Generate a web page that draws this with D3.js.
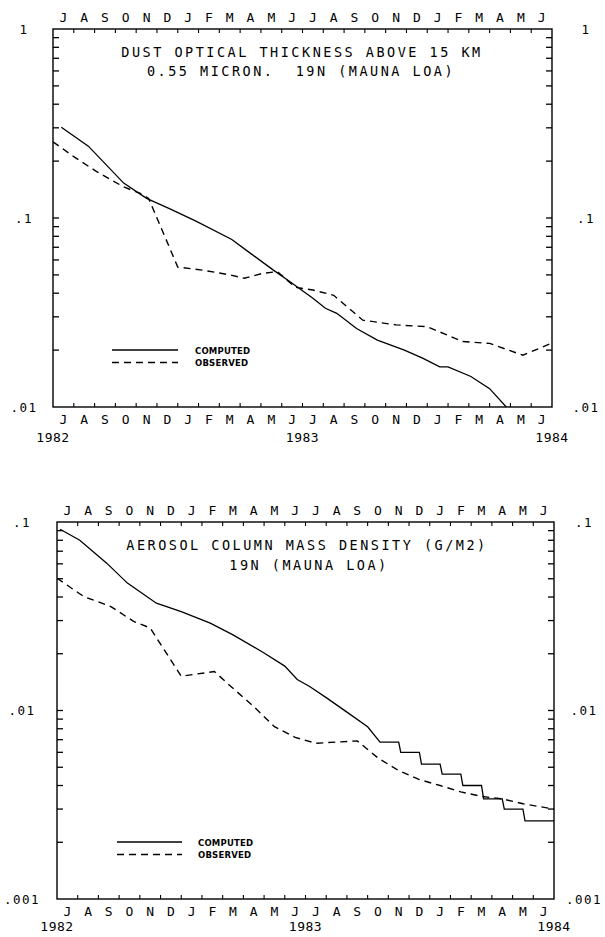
<!DOCTYPE html>
<html>
<head>
<meta charset="utf-8">
<script src="https://cdn.jsdelivr.net/npm/d3@7"></script>
<style>
  body { margin: 0; background: #fff; }
  svg { display: block; }
</style>
</head>
<body>
<div id="chart"></div>
<script>
// month letters, Jul 1982 .. Jun 1984
var monthLetters = ['J','A','S','O','N','D','J','F','M','A','M','J',
                    'J','A','S','O','N','D','J','F','M','A','M','J'];
var yearLabels = ['1982', '1983', '1984'];
var yearMonths = [0, 12, 24];

// panel 1: dust optical thickness (month index from 1 Jul 1982)
var dustComputedMonth = [0.4, 1.7, 3.4, 4.5, 5.6, 6.9, 8.6, 9.5, 10.6, 11.4, 12.5, 13.1, 13.65, 14.6, 15.6, 16.9, 17.8, 18.6, 19.0, 20.1, 21.0, 21.8, 22.3];
var dustComputed = [0.302, 0.240, 0.153, 0.127, 0.112, 0.096, 0.077, 0.065, 0.053, 0.046, 0.0376, 0.0333, 0.0313, 0.026, 0.0226, 0.020, 0.0181, 0.0163, 0.0163, 0.0145, 0.0125, 0.010, 0.009];
var dustObservedMonth = [0, 1.0, 2.1, 3.4, 4.2, 4.6, 6.0, 7.2, 8.5, 9.2, 10.1, 10.8, 11.65, 12.5, 13.5, 14.9, 16.5, 18.0, 19.7, 21.0, 22.6, 24];
var dustObserved = [0.253, 0.211, 0.176, 0.146, 0.135, 0.127, 0.055, 0.053, 0.050, 0.048, 0.051, 0.052, 0.043, 0.0416, 0.039, 0.0288, 0.0272, 0.0266, 0.0222, 0.0217, 0.0188, 0.0218];

// panel 2: aerosol column mass density
var massComputedMonth = [0.15, 1.1, 2.4, 3.4, 4.8, 6.0, 7.4, 8.5, 10.0, 11.0, 11.6, 12.2, 13.0, 14.0, 15.0, 15.6, 16.5, 16.6, 17.5, 17.6, 18.5, 18.6, 19.5, 19.6, 20.5, 20.6, 21.5, 21.6, 22.5, 22.6, 24];
var massComputed = [0.0915, 0.080, 0.0605, 0.0474, 0.0371, 0.0335, 0.0291, 0.0252, 0.0202, 0.0172, 0.0146, 0.0134, 0.0117, 0.0098, 0.0082, 0.0068, 0.0068, 0.0060, 0.0060, 0.0052, 0.0052, 0.0046, 0.0046, 0.0040, 0.0040, 0.0034, 0.0034, 0.0030, 0.0030, 0.0026, 0.0026];
var massObservedMonth = [0, 1.3, 2.6, 3.7, 4.5, 6.0, 7.6, 8.4, 9.5, 10.5, 11.5, 12.5, 13.5, 14.5, 15.5, 16.5, 17.5, 18.5, 19.5, 20.5, 21.5, 22.5, 24];
var massObserved = [0.0503, 0.0402, 0.0356, 0.0297, 0.0274, 0.0152, 0.0161, 0.0134, 0.0105, 0.0082, 0.0072, 0.0067, 0.0068, 0.0069, 0.0056, 0.0048, 0.0043, 0.0040, 0.0037, 0.0035, 0.0034, 0.0032, 0.0030];

var legendNames = ['COMPUTED', 'OBSERVED'];

var W = 605, H = 937;
var svg = d3.select('#chart').append('svg').attr('width', W).attr('height', H);

var plotFont = '"DejaVu Sans Mono", monospace';

function drawPanel(opt) {
    var g = svg.append('g');
    var x = d3.scaleLinear().domain([0, 24]).range([opt.left, opt.right]);
    var y = d3.scaleLog().domain(opt.yDomain).range([opt.bottom, opt.top]);

    var clipId = 'clip' + opt.id;
    g.append('clipPath').attr('id', clipId).append('rect')
        .attr('x', opt.left).attr('y', opt.top)
        .attr('width', opt.right - opt.left).attr('height', opt.bottom - opt.top);

    // frame
    g.append('rect').attr('x', opt.left).attr('y', opt.top)
        .attr('width', opt.right - opt.left).attr('height', opt.bottom - opt.top)
        .attr('fill', 'none').attr('stroke', '#000').attr('stroke-width', 1.4);

    // month ticks on top and bottom (inward)
    var mTicks = d3.range(1, 24);
    g.selectAll('.mt').data(mTicks).enter().append('line')
        .attr('x1', function (d) { return x(d); }).attr('x2', function (d) { return x(d); })
        .attr('y1', opt.top).attr('y2', opt.top + 4)
        .attr('stroke', '#000').attr('stroke-width', 1.1);
    g.selectAll('.mb').data(mTicks).enter().append('line')
        .attr('x1', function (d) { return x(d); }).attr('x2', function (d) { return x(d); })
        .attr('y1', opt.bottom).attr('y2', opt.bottom - 4)
        .attr('stroke', '#000').attr('stroke-width', 1.1);

    // log ticks left and right (inward)
    var yTicks = y.ticks().filter(function (d) { return d > opt.yDomain[0] * 1.001 && d < opt.yDomain[1] * 0.999; });
    g.selectAll('.yl').data(yTicks).enter().append('line')
        .attr('x1', opt.left).attr('x2', opt.left + 6)
        .attr('y1', function (d) { return y(d); }).attr('y2', function (d) { return y(d); })
        .attr('stroke', '#000').attr('stroke-width', 1.3);
    g.selectAll('.yr').data(yTicks).enter().append('line')
        .attr('x1', opt.right).attr('x2', opt.right - 6)
        .attr('y1', function (d) { return y(d); }).attr('y2', function (d) { return y(d); })
        .attr('stroke', '#000').attr('stroke-width', 1.3);

    // decade labels both sides
    opt.decadeValues.forEach(function (v, i) {
        [opt.leftLabelX, opt.rightLabelX].forEach(function (lx) {
            g.append('text').text(opt.decadeLabels[i])
                .attr('x', lx).attr('y', y(v) + 4.5)
                .attr('text-anchor', 'middle')
                .style('font-family', plotFont).style('font-size', '12.5px')
                .style('letter-spacing', '1.5px');
        });
    });

    // month letters top & bottom
    monthLetters.forEach(function (m, i) {
        g.append('text').text(m).attr('x', x(i + 0.5)).attr('y', opt.top - 7)
            .attr('text-anchor', 'middle')
            .style('font-family', plotFont).style('font-size', '13px');
        g.append('text').text(m).attr('x', x(i + 0.5)).attr('y', opt.bottom + 17)
            .attr('text-anchor', 'middle')
            .style('font-family', plotFont).style('font-size', '13px');
    });
    // years
    yearLabels.forEach(function (t, i) {
        g.append('text').text(t).attr('x', x(yearMonths[i])).attr('y', opt.bottom + opt.yearDy)
            .attr('text-anchor', 'middle')
            .style('font-family', plotFont).style('font-size', '13px')
            .style('letter-spacing', '0.5px');
    });

    // title lines
    opt.title.forEach(function (t, i) {
        g.append('text').text(t).attr('x', opt.titleX[i]).attr('y', opt.titleY[i])
            .attr('text-anchor', 'middle')
            .style('white-space', 'pre')
            .style('font-family', plotFont).style('font-size', '13.5px')
            .style('letter-spacing', '2.5px');
    });

    // data lines
    var line = d3.line()
        .x(function (d) { return x(d[0]); })
        .y(function (d) { return y(d[1]); });
    var comp = d3.zip(opt.compMonth, opt.comp);
    var obs = d3.zip(opt.obsMonth, opt.obs);
    g.append('path').datum(comp).attr('d', line)
        .attr('clip-path', 'url(#' + clipId + ')')
        .attr('fill', 'none').attr('stroke', '#000').attr('stroke-width', 1.3);
    g.append('path').datum(obs).attr('d', line)
        .attr('clip-path', 'url(#' + clipId + ')')
        .attr('fill', 'none').attr('stroke', '#000').attr('stroke-width', 1.4)
        .attr('stroke-dasharray', '7,5');

    // legend
    var lg = opt.legend;
    g.append('line').attr('x1', lg.x1).attr('x2', lg.x2).attr('y1', lg.y).attr('y2', lg.y)
        .attr('stroke', '#000').attr('stroke-width', 1.3);
    g.append('line').attr('x1', lg.x1).attr('x2', lg.x2).attr('y1', lg.y + 12.5).attr('y2', lg.y + 12.5)
        .attr('stroke', '#000').attr('stroke-width', 1.4).attr('stroke-dasharray', '7,5');
    legendNames.forEach(function (t, i) {
        g.append('text').text(t).attr('x', lg.tx).attr('y', lg.y + 3.5 + i * 12.5)
            .style('font-family', '"DejaVu Sans", sans-serif').style('font-weight', 'bold')
            .style('font-size', '8.5px').style('letter-spacing', '0.2px');
    });
}

drawPanel({
    id: 1, left: 53, right: 552, top: 29, bottom: 407, yearDy: 35,
    yDomain: [0.01, 1], decadeValues: [1, 0.1, 0.01], decadeLabels: ['1', '.1', '.01'],
    leftLabelX: 24, rightLabelX: 586,
    title: ['DUST OPTICAL THICKNESS ABOVE 15 KM', '0.55 MICRON.  19N (MAUNA LOA)'],
    titleX: [302, 301], titleY: [57, 76],
    compMonth: dustComputedMonth, comp: dustComputed,
    obsMonth: dustObservedMonth, obs: dustObserved,
    legend: { x1: 112, x2: 178, y: 350, tx: 195 }
});

drawPanel({
    id: 2, left: 57, right: 554, top: 522, bottom: 899, yearDy: 32,
    yDomain: [0.001, 0.1], decadeValues: [0.1, 0.01, 0.001], decadeLabels: ['.1', '.01', '.001'],
    leftLabelX: 22, rightLabelX: 584,
    title: ['AEROSOL COLUMN MASS DENSITY (G/M2)', '19N (MAUNA LOA)'],
    titleX: [307, 309], titleY: [550, 570],
    compMonth: massComputedMonth, comp: massComputed,
    obsMonth: massObservedMonth, obs: massObserved,
    legend: { x1: 117, x2: 182, y: 842, tx: 198 }
});
</script>
</body>
</html>
